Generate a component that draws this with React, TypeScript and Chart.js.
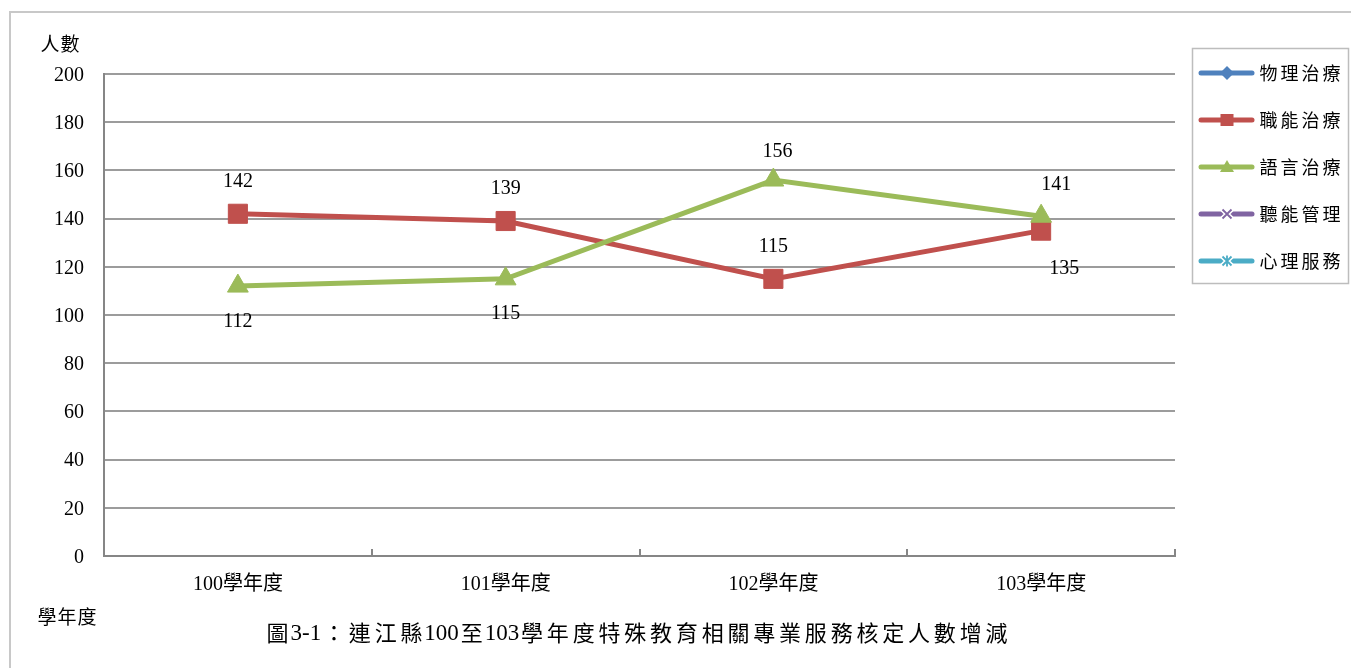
import React, { useEffect, useRef } from 'react';
import { Chart, registerables } from 'chart.js';

Chart.register(...registerables);

// ---------- data ----------
const categories = ['100學年度', '101學年度', '102學年度', '103學年度'];
const seriesNames = ['物理治療', '職能治療', '語言治療', '聽能管理', '心理服務'];
const physicalTherapy: (number | null)[] = [null, null, null, null];
const occupationalTherapy: (number | null)[] = [142, 139, 115, 135];
const speechTherapy: (number | null)[] = [112, 115, 156, 141];
const auditoryManagement: (number | null)[] = [null, null, null, null];
const psychologicalService: (number | null)[] = [null, null, null, null];
const yMin = 0;
const yMax = 200;
const yStep = 20;
const yAxisTitle = '人數';
const xAxisTitle = '學年度';
const caption = '圖3-1：連江縣100至103學年度特殊教育相關專業服務核定人數增減';

// ---------- styles ----------
const seriesColors = ['#4F81BD', '#C0504D', '#9BBB59', '#8064A2', '#4BACC6'];
const seriesMarkers = ['rectRot', 'rect', 'triangle', 'crossRot', 'star'];
const pointRadii = [8, 13.5, 12, 8, 8];
const drawOrder = [2, 1, 0, 3, 4];
// label placement per series (dy from point, dx shift)
const labelPlacement: Record<number, { dy: number; dx: number }[]> = {
  1: [
    { dy: -32, dx: 0 },
    { dy: -32, dx: 0 },
    { dy: -32, dx: 0 },
    { dy: 38, dx: 23 },
  ],
  2: [
    { dy: 36, dx: 0 },
    { dy: 35, dx: 0 },
    { dy: -28, dx: 4 },
    { dy: -31, dx: 15 },
  ],
};

const SERIF = "'Liberation Serif', 'Times New Roman', serif";
const CJKFONT = "'Noto Sans CJK TC', 'Noto Sans CJK SC', sans-serif";
const GRID = '#9c9c9c';
const AXIS = '#868686';

const isCJK = (ch: string) => ch.charCodeAt(0) >= 0x2e80;

function drawMixed(
  ctx: CanvasRenderingContext2D,
  text: string,
  x: number,
  y: number,
  o: { latin: number; cjk: number; adv: number; align: 'left' | 'center' }
) {
  const lf = `${o.latin}px ${SERIF}`;
  const cf = `${o.cjk}px ${CJKFONT}`;
  const chars = Array.from(text);
  const widths = chars.map((ch) => {
    if (isCJK(ch)) return o.adv;
    ctx.font = lf;
    return ctx.measureText(ch).width;
  });
  const total = widths.reduce((a, b) => a + b, 0);
  let cx = o.align === 'center' ? x - total / 2 : x;
  ctx.textBaseline = 'middle';
  ctx.fillStyle = '#000';
  chars.forEach((ch, i) => {
    if (isCJK(ch)) {
      ctx.font = cf;
      ctx.textAlign = 'center';
      ctx.fillText(ch, cx + widths[i] / 2, y);
    } else {
      ctx.font = lf;
      ctx.textAlign = 'left';
      ctx.fillText(ch, cx, y + 1);
    }
    cx += widths[i];
  });
}

function drawLegendMarker(ctx: CanvasRenderingContext2D, style: string, x: number, y: number, color: string) {
  ctx.save();
  ctx.fillStyle = color;
  ctx.strokeStyle = color;
  ctx.lineWidth = 2;
  ctx.beginPath();
  const cross = (withVertical: boolean) => {
    ctx.strokeStyle = '#fff';
    ctx.lineWidth = 5;
    ctx.moveTo(x - 4.5, y - 4.5);
    ctx.lineTo(x + 4.5, y + 4.5);
    ctx.moveTo(x + 4.5, y - 4.5);
    ctx.lineTo(x - 4.5, y + 4.5);
    ctx.stroke();
    ctx.beginPath();
    ctx.strokeStyle = color;
    ctx.lineWidth = 1.8;
    ctx.moveTo(x - 4.5, y - 4.5);
    ctx.lineTo(x + 4.5, y + 4.5);
    ctx.moveTo(x + 4.5, y - 4.5);
    ctx.lineTo(x - 4.5, y + 4.5);
    if (withVertical) {
      ctx.moveTo(x, y - 5.5);
      ctx.lineTo(x, y + 5.5);
    }
    ctx.stroke();
  };
  switch (style) {
    case 'rectRot':
      ctx.moveTo(x, y - 7);
      ctx.lineTo(x + 7, y);
      ctx.lineTo(x, y + 7);
      ctx.lineTo(x - 7, y);
      ctx.closePath();
      ctx.fill();
      break;
    case 'rect':
      ctx.fillRect(x - 6.5, y - 6, 13, 12);
      break;
    case 'triangle':
      ctx.moveTo(x, y - 7);
      ctx.lineTo(x + 7, y + 5);
      ctx.lineTo(x - 7, y + 5);
      ctx.closePath();
      ctx.fill();
      break;
    case 'crossRot':
      cross(false);
      break;
    case 'star':
      cross(true);
      break;
  }
  ctx.restore();
}

const decorPlugin = {
  id: 'decor',
  beforeDraw(chart: any) {
    const ctx: CanvasRenderingContext2D = chart.ctx;
    ctx.save();
    ctx.fillStyle = '#fff';
    ctx.fillRect(0, 0, chart.width, chart.height);
    ctx.strokeStyle = '#c8c8c8';
    ctx.lineWidth = 2;
    ctx.strokeRect(10, 12, chart.width + 50, chart.height + 50);
    ctx.restore();
  },
  afterDraw(chart: any) {
    const ctx: CanvasRenderingContext2D = chart.ctx;
    const xs = chart.scales.x;
    ctx.save();
    // inner tick marks on category axis
    const n = categories.length;
    const step = (xs.right - xs.left) / n;
    ctx.strokeStyle = AXIS;
    ctx.lineWidth = 2;
    ctx.beginPath();
    for (let i = 1; i <= n; i++) {
      const x = Math.round(xs.left + i * step);
      ctx.moveTo(x, xs.top);
      ctx.lineTo(x, xs.top - 7);
    }
    ctx.stroke();

    // axis titles and caption
    drawMixed(ctx, yAxisTitle, 40, 44, { latin: 18, cjk: 19, adv: 20, align: 'left' });
    drawMixed(ctx, xAxisTitle, 37, 617, { latin: 18, cjk: 19, adv: 20, align: 'left' });
    drawMixed(ctx, caption, 637, 633, { latin: 23, cjk: 22, adv: 25.8, align: 'center' });

    // legend
    const lx = 1192;
    const ly = 48;
    ctx.strokeStyle = '#bdbdbd';
    ctx.lineWidth = 1.5;
    ctx.strokeRect(lx + 0.5, ly + 0.5, 156, 235);
    seriesNames.forEach((name, i) => {
      const y = 73 + i * 47;
      ctx.save();
      ctx.strokeStyle = seriesColors[i];
      ctx.lineWidth = 5;
      ctx.lineCap = 'round';
      ctx.beginPath();
      ctx.moveTo(1201, y);
      ctx.lineTo(1252, y);
      ctx.stroke();
      ctx.restore();
      drawLegendMarker(ctx, seriesMarkers[i], 1227, y, seriesColors[i]);
      drawMixed(ctx, name, 1258, y, { latin: 17, cjk: 18, adv: 21, align: 'left' });
    });
    ctx.restore();
  },
  afterDatasetsDraw(chart: any) {
    const ctx: CanvasRenderingContext2D = chart.ctx;
    ctx.save();
    ctx.font = `20px ${SERIF}`;
    ctx.fillStyle = '#000';
    ctx.textAlign = 'center';
    ctx.textBaseline = 'middle';
    chart.data.datasets.forEach((ds: any, di: number) => {
      const place = labelPlacement[di];
      if (!place) return;
      const meta = chart.getDatasetMeta(di);
      meta.data.forEach((pt: any, i: number) => {
        const v = ds.data[i];
        if (v == null) return;
        const p = place[i];
        ctx.fillText(String(v), pt.x + p.dx, pt.y + p.dy);
      });
    });
    ctx.restore();
  },
};

export default function App() {
  const ref = useRef<HTMLCanvasElement | null>(null);

  useEffect(() => {
    if (!ref.current) return;
    const seriesData = [physicalTherapy, occupationalTherapy, speechTherapy, auditoryManagement, psychologicalService];
    const chart = new Chart(ref.current, {
      type: 'line',
      data: {
        labels: categories,
        datasets: seriesNames.map((name, i) => ({
          label: name,
          data: seriesData[i],
          borderColor: seriesColors[i],
          backgroundColor: seriesColors[i],
          borderWidth: 5,
          pointStyle: seriesMarkers[i] as any,
          pointRadius: pointRadii[i],
          pointBorderWidth: 1,
          pointBackgroundColor: seriesColors[i],
          pointBorderColor: seriesColors[i],
          tension: 0,
          fill: false,
          order: drawOrder[i],
        })),
      },
      options: {
        animation: false,
        responsive: false,
        events: [],
        layout: { padding: { top: 74, right: 176, left: 0, bottom: 0 } },
        plugins: {
          legend: { display: false },
          tooltip: { enabled: false },
          title: { display: false },
        },
        scales: {
          x: {
            type: 'category',
            offset: true,
            grid: { display: true, drawOnChartArea: false, drawTicks: false, offset: true },
            border: { display: true, color: AXIS, width: 2 },
            ticks: {
              color: '#000',
              padding: 17,
              font: { family: "'Liberation Serif', 'Noto Sans CJK TC', serif", size: 20 },
              maxRotation: 0,
            },
            afterFit: (s: any) => {
              s.height = 112;
            },
          },
          y: {
            min: yMin,
            max: yMax,
            grid: { color: GRID, lineWidth: 2, drawTicks: false },
            border: { display: true, color: AXIS, width: 2 },
            ticks: {
              stepSize: yStep,
              color: '#000',
              padding: 20,
              labelOffset: 1.5,
              font: { family: SERIF, size: 20 },
            },
            afterFit: (s: any) => {
              s.width = 104;
            },
          },
        },
      },
      plugins: [decorPlugin],
    });
    return () => chart.destroy();
  }, []);

  return (
    <div style={{ position: 'absolute', left: 0, top: 0, width: 1351, height: 668, background: '#fff' }}>
      <canvas ref={ref} width={1351} height={668} style={{ display: 'block', width: 1351, height: 668 }} />
    </div>
  );
}
